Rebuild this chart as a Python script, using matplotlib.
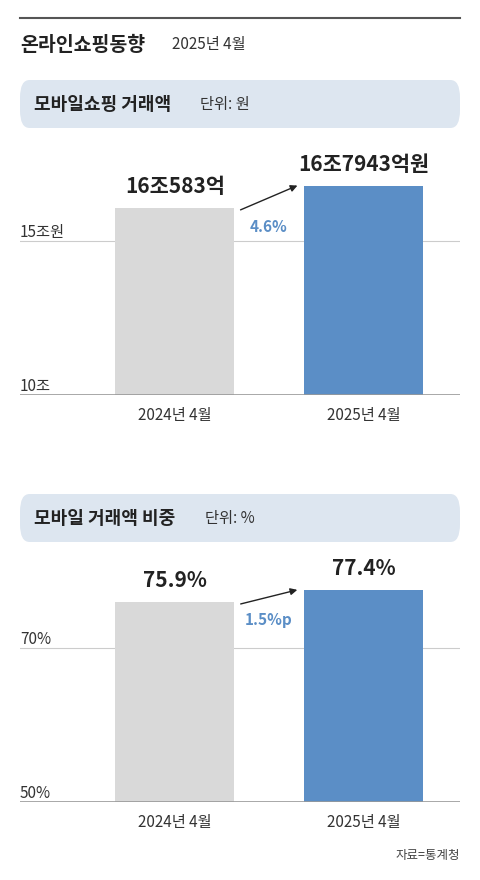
import matplotlib
matplotlib.use("Agg")
import matplotlib.pyplot as plt
from matplotlib.patches import FancyBboxPatch

plt.rcParams['font.family'] = ['Noto Sans CJK KR', 'DejaVu Sans']

categories = ["2024년 4월", "2025년 4월"]
amount = [16.0583, 16.7943]          # 조원
amount_labels = ["16조583억", "16조7943억원"]
amount_change = "4.6%"
share = [75.9, 77.4]                 # %
share_labels = ["75.9%", "77.4%"]
share_change = "1.5%p"

W, H = 480, 880
fig = plt.figure(figsize=(W/100, H/100), dpi=100)
fig.patch.set_facecolor("white")

def fx(x): return x / W
def fy(y): return 1 - y / H

GRAY, BLUE, DARK = "#d9d9d9", "#5b8ec6", "#222222"

fig.add_artist(plt.Line2D([fx(20), fx(460)], [fy(18), fy(18)], color="#555555", lw=1.5))
fig.text(fx(20), fy(45), "온라인쇼핑동향", fontsize=14, fontweight="bold", va="center", color=DARK)
fig.text(fx(172), fy(45), "2025년 4월", fontsize=11, va="center", color="#333333")

def header(y0, y1, title, x_unit, unit):
    fig.add_artist(FancyBboxPatch((fx(20), fy(y1)), fx(440), (y1 - y0) / H,
                                  boxstyle="round,pad=0,rounding_size=0.02",
                                  transform=fig.transFigure, fc="#dde6f0", ec="none"))
    yc = fy((y0 + y1) / 2)
    fig.text(fx(34), yc, title, fontsize=13, fontweight="bold", va="center", color=DARK)
    fig.text(fx(x_unit), yc, unit, fontsize=11, va="center", color="#333333")

def panel(top, bottom, ylo, yhi, vals, labels, change, grid, gridlab, baselab):
    ax = fig.add_axes([fx(20), fy(bottom), fx(440), (bottom - top) / H])
    ax.set_xlim(0, 440)
    ax.set_ylim(ylo, yhi)
    ax.axis("off")
    xs = [155, 344]
    ax.axhline(grid, color="#cccccc", lw=0.8, zorder=0)
    ax.axhline(ylo, color="#999999", lw=1.2, zorder=3)
    ax.bar(xs, [v - ylo for v in vals], bottom=ylo, width=119, color=[GRAY, BLUE], zorder=2)
    for x, v, l in zip(xs, vals, labels):
        ax.annotate(l, (x, v), xytext=(0, 8), textcoords="offset points",
                    ha="center", va="bottom", fontsize=15, fontweight="bold", color=DARK)
    ax.annotate("", xy=(280, vals[1] + (yhi-ylo)*0.005), xytext=(218, vals[0] - (yhi-ylo)*0.01),
                arrowprops=dict(arrowstyle="-|>", color=DARK, lw=1))
    ax.text(249, vals[0] - (yhi-ylo)*0.04, change, ha="center", va="top",
            fontsize=11, fontweight="bold", color="#5b8ec6")
    ax.text(0, grid, gridlab, ha="left", va="bottom", fontsize=11, color="#333333")
    ax.text(0, ylo, baselab, ha="left", va="bottom", fontsize=11, color="#333333")
    for x, c in zip(xs, categories):
        fig.text(fx(20 + x), fy(bottom + 20), c, ha="center", va="center", fontsize=11, color="#333333")

header(80, 128, "모바일쇼핑 거래액", 200, "단위: 원")
panel(140, 395, 10, 10 + 255/30.8, amount, amount_labels, amount_change, 15, "15조원", "10조")

header(494, 542, "모바일 거래액 비중", 205, "단위: %")
panel(545, 802, 50, 50 + 257/7.72, share, share_labels, share_change, 70, "70%", "50%")

fig.text(fx(460), fy(855), "자료=통계청", ha="right", va="center", fontsize=9, color="#444444")

fig.savefig("out.png", dpi=100, facecolor="white")
